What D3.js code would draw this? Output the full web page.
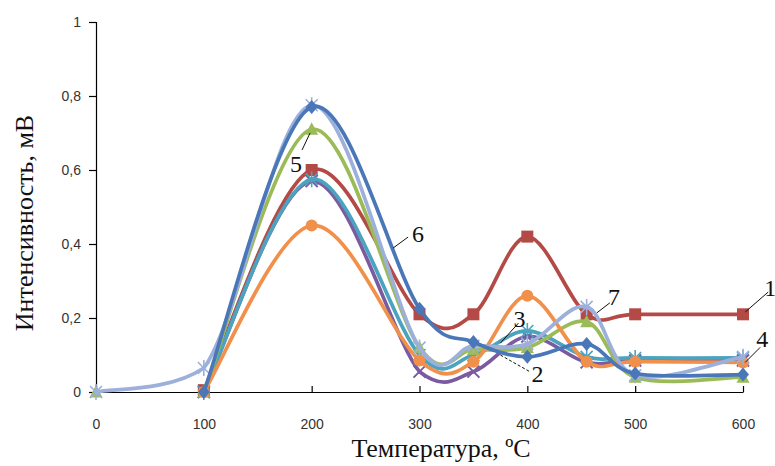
<!DOCTYPE html>
<html>
<head>
<meta charset="utf-8">
<script src="https://cdn.jsdelivr.net/npm/d3@7"></script>
<style>
  html, body { margin: 0; padding: 0; background: #fff; }
  svg { display: block; }
</style>
</head>
<body>
<svg id="chart" width="775" height="466"></svg>
<script>
// Temperatures (°C) at which the signal was measured
const temps = [0, 100, 200, 300, 350, 400, 455, 500, 600];

// Signal intensity (mV) per sample; null = not measured
const s1 = [null, 0.005, 0.60, 0.21, 0.21, 0.42, 0.21, 0.21, 0.21];
const s2 = [null, 0.00, 0.57, 0.055, 0.055, 0.15, 0.08, 0.085, 0.085];
const s3 = [null, 0.00, 0.575, 0.10, 0.10, 0.165, 0.095, 0.092, 0.092];
const s4 = [null, 0.00, 0.45, 0.085, 0.082, 0.26, 0.082, 0.082, 0.08];
const s5 = [0.00, 0.00, 0.71, 0.12, 0.115, 0.12, 0.19, 0.04, 0.04];
const s6 = [null, 0.00, 0.77, 0.225, 0.135, 0.095, 0.13, 0.05, 0.047];
const s7 = [0.00, 0.065, 0.775, 0.12, 0.125, 0.13, 0.23, 0.045, 0.095];

const xTicks = [0, 100, 200, 300, 400, 500, 600];
const yTicks = [0, 0.2, 0.4, 0.6, 0.8, 1];

// Series number callouts: anchor on the curve (data units), leader vector (px),
// and text offset from the leader end (px)
const callouts = [
  { text: "1", x: 602, y: 0.216, dx: 23, dy: -20, tx: -4, ty: 4 },
  { text: "2", x: 375, y: 0.10, dx: 30, dy: 17, tx: 1, ty: 10, dashed: true },
  { text: "3", x: 375, y: 0.132, dx: 18, dy: -20, tx: -5, ty: 4 },
  { text: "4", x: 602, y: 0.08, dx: 15, dy: -15, tx: -4, ty: 0 },
  { text: "5", x: 198.5, y: 0.70, dx: -8, dy: 17, tx: -12, ty: 22 },
  { text: "6", x: 275.5, y: 0.389, dx: 15, dy: -11, tx: 4, ty: 5 },
  { text: "7", x: 464.5, y: 0.214, dx: 13, dy: -10, tx: -2, ty: 2 }
];

// lineFrom: first temperature joined by the line (earlier points are markers only)
const series = [
  { name: "1", values: s1, color: "#B34A45", marker: "square" },
  { name: "2", values: s2, color: "#7B5BA0", marker: "x" },
  { name: "3", values: s3, color: "#4BA3BF", marker: "star" },
  { name: "5", values: s5, color: "#9BBB59", marker: "triangle", lineFrom: 100 },
  { name: "4", values: s4, color: "#F0904A", marker: "circle" },
  { name: "7", values: s7, color: "#9CB0DB", marker: "star" },
  { name: "6", values: s6, color: "#4A77B8", marker: "diamond" }
];

const svg = d3.select("#chart");
const x = d3.scaleLinear().domain([0, 600]).range([96, 743]);
const y = d3.scaleLinear().domain([0, 1]).range([392, 22]);

const fmt = v => String(v).replace(".", ",");

// Y axis: ticks pointing outward
const yAxis = svg.append("g")
  .attr("transform", `translate(${x(0)},0)`)
  .call(d3.axisLeft(y).tickValues(yTicks).tickFormat(fmt).tickSizeOuter(0).tickSize(7).tickPadding(8));
yAxis.select(".domain").attr("stroke", "#000").attr("stroke-width", 1.2);
yAxis.selectAll(".tick line").attr("stroke", "#000").attr("stroke-width", 1.2);
yAxis.selectAll("text")
  .attr("font-family", "'Liberation Sans', Arial, sans-serif")
  .attr("font-size", 14).attr("fill", "#333");

// X axis: ticks pointing up into the plot
const xAxis = svg.append("g")
  .attr("transform", `translate(0,${y(0)})`)
  .call(d3.axisBottom(x).tickValues(xTicks).tickFormat(d3.format("d")).tickSizeOuter(0).tickSize(0).tickPadding(27));
xAxis.select(".domain").attr("stroke", "#000").attr("stroke-width", 1.2);
xAxis.selectAll(".tick").append("line")
  .attr("y1", 0).attr("y2", -6).attr("stroke", "#000").attr("stroke-width", 1.2);
xAxis.selectAll("text")
  .attr("font-family", "'Liberation Sans', Arial, sans-serif")
  .attr("font-size", 14).attr("fill", "#333");

// Axis titles
svg.append("text")
  .attr("transform", `translate(33,223) rotate(-90)`)
  .attr("text-anchor", "middle")
  .attr("font-family", "'Liberation Serif', 'Times New Roman', serif")
  .attr("font-size", 26).attr("fill", "#111")
  .text("Интенсивность, мВ");

svg.append("text")
  .attr("x", 441).attr("y", 457)
  .attr("text-anchor", "middle")
  .attr("font-family", "'Liberation Serif', 'Times New Roman', serif")
  .attr("font-size", 26).attr("fill", "#111")
  .text("Температура, ºC");

// Smoothed line: cubic Bezier through every point, control points at
// ±1/6 of the neighbour chord, kept from dropping below the zero line.
function smoothPath(data) {
  const P = data.map(d => [x(d.t), y(d.v)]);
  const floor = y(0);
  const p = d3.path();
  p.moveTo(P[0][0], P[0][1]);
  for (let i = 0; i < P.length - 1; i++) {
    const p0 = P[i - 1] || P[i], p1 = P[i], p2 = P[i + 1], p3 = P[i + 2] || P[i + 1];
    const c1 = [p1[0] + (p2[0] - p0[0]) / 6, Math.min(floor, p1[1] + (p2[1] - p0[1]) / 6)];
    const c2 = [p2[0] - (p3[0] - p1[0]) / 6, Math.min(floor, p2[1] - (p3[1] - p1[1]) / 6)];
    p.bezierCurveTo(c1[0], c1[1], c2[0], c2[1], p2[0], p2[1]);
  }
  return p.toString();
}

const plot = svg.append("g");

function pts(s) {
  return temps.map((t, i) => ({ t, v: s.values[i] })).filter(d => d.v !== null);
}

function drawMarker(g, type, color, cx, cy) {
  const r = 6;
  if (type === "square") {
    g.append("rect").attr("x", cx - r).attr("y", cy - r).attr("width", 2 * r).attr("height", 2 * r).attr("fill", color);
  } else if (type === "circle") {
    g.append("circle").attr("cx", cx).attr("cy", cy).attr("r", r).attr("fill", color);
  } else if (type === "triangle") {
    g.append("path").attr("d", `M${cx},${cy - r - 1}L${cx + r + 0.5},${cy + r - 0.5}L${cx - r - 0.5},${cy + r - 0.5}Z`).attr("fill", color);
  } else if (type === "diamond") {
    g.append("path").attr("d", `M${cx},${cy - r - 1}L${cx + r},${cy}L${cx},${cy + r + 1}L${cx - r},${cy}Z`).attr("fill", color);
  } else if (type === "x") {
    g.append("path").attr("d", `M${cx - r},${cy - r}L${cx + r},${cy + r}M${cx - r},${cy + r}L${cx + r},${cy - r}`)
      .attr("stroke", color).attr("stroke-width", 2);
  } else if (type === "star") {
    g.append("path").attr("d",
      `M${cx - r},${cy - r}L${cx + r},${cy + r}M${cx - r},${cy + r}L${cx + r},${cy - r}M${cx},${cy - r - 2}L${cx},${cy + r + 2}`)
      .attr("stroke", color).attr("stroke-width", 1.6);
  }
}

series.forEach(s => {
  const data = pts(s);
  const lineData = data.filter(d => s.lineFrom === undefined || d.t >= s.lineFrom);
  plot.append("path")
    .attr("d", smoothPath(lineData))
    .attr("fill", "none")
    .attr("stroke", s.color)
    .attr("stroke-width", 3.7)
    .attr("stroke-linejoin", "round")
    .attr("stroke-linecap", "round");
  const mg = plot.append("g");
  data.forEach(d => drawMarker(mg, s.marker, s.color, x(d.t), y(d.v)));
});

// Series number callouts
const cg = svg.append("g");
callouts.forEach(c => {
  const x0 = x(c.x), y0 = y(c.y);
  const x1 = x0 + c.dx, y1 = y0 + c.dy;
  cg.append("line")
    .attr("x1", x0).attr("y1", y0).attr("x2", x1).attr("y2", y1)
    .attr("stroke", "#111").attr("stroke-width", 1)
    .attr("stroke-dasharray", c.dashed ? "3,2" : null);
  cg.append("text")
    .attr("x", x1 + c.tx).attr("y", y1 + c.ty)
    .attr("font-family", "'Liberation Serif', 'Times New Roman', serif")
    .attr("font-size", 24).attr("fill", "#111")
    .text(c.text);
});
</script>
</body>
</html>
